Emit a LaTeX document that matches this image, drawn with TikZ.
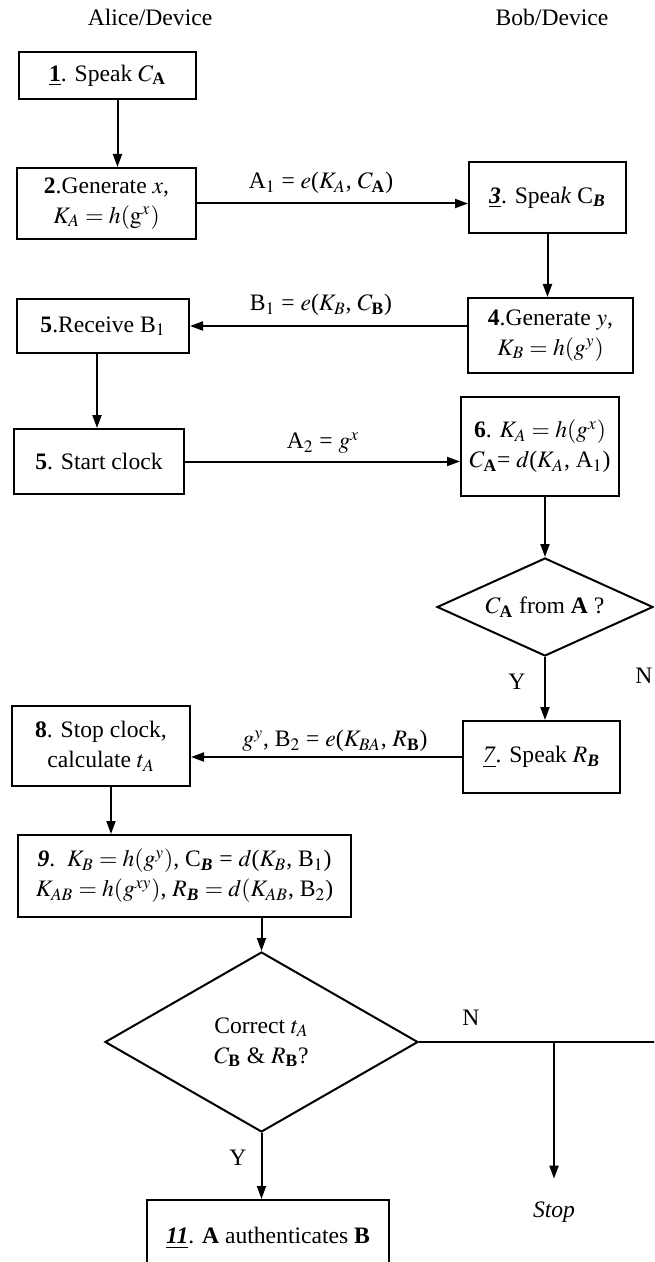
\documentclass[tikz,border=0pt]{standalone}
\usepackage{amsmath}
\usepackage{mathptmx}
\usepackage{fontspec}
\setmainfont{Liberation Serif}
\usetikzlibrary{arrows.meta, shapes, positioning, calc}

\newcommand{\bfA}{\textbf{A}}
\newcommand{\bfB}{\textbf{B}}
\newcommand{\bfiB}{\textbf{\textit{B}}}

\begin{document}
\begin{tikzpicture}[
        x=0.5pt, y=-0.5pt,
        font=\fontsize{11.8}{15}\selectfont,
        box/.style={rectangle, draw, line width=1pt, align=center, inner sep=2pt},
        decision/.style={diamond, draw, line width=1pt, align=center, inner sep=0pt},
        arrow/.style={line width=1pt, -{Triangle[length=6.5pt, width=4.5pt]}},
        link/.style={line width=1pt}
    ]
        \useasboundingbox (0,0) rectangle (654,1262);
        \clip (0,0) rectangle (654,1262);

        \node (alice) at (150,17) {Alice/Device};
        \node (bob) at (552,17) {Bob/Device};

        \node (s1) [box, minimum width=88.5pt, minimum height=23.5pt] at (107.5,75.5) {\underline{\textbf{1}}. Speak $C_{\bfA}$};
        \node (s2) [box, minimum width=89.5pt, minimum height=35.5pt] at (106.5,203.5) {\textbf{2}.Generate $x$, \\ $K_A = h(\mathrm{g}^x)$};
        \node (s3) [box, minimum width=78.5pt, minimum height=35.5pt] at (547.5,197.5) {\underline{\textbf{\textit{3}}}. Spea\textit{k} C$_{\bfiB}$};
        \node (s4) [box, minimum width=82.5pt, minimum height=37.5pt] at (550.5,335.5) {\textbf{4}.Generate $y$, \\ $K_B = h(g^y)$};
        \node (s5) [box, minimum width=86pt, minimum height=27pt] at (103,326) {\textbf{5}.Receive B$_1$};
        \node (s6) [box, minimum width=85pt, minimum height=32.5pt] at (99,461.5) {\textbf{5}. Start clock};
        \node (s7) [box, minimum width=79pt, minimum height=49.5pt] at (540,446.5) {\textbf{6}. $K_A = h(g^x)$ \\ $C_{\bfA}$= $d$($K_A$, A$_1$)};
        \node (d1) [decision, minimum width=108pt, minimum height=49pt, aspect=2.2] at (545,607) {$C_{\bfA}$ from \textbf{A} ?};
        \node (s8) [box, minimum width=78.5pt, minimum height=36pt] at (541.5,757) {\underline{\textit{7}}. Speak $R_{\bfiB}$};
        \node (s9) [box, minimum width=89pt, minimum height=40pt] at (101,746) {\textbf{8}. Stop clock, \\ calculate $t_A$};
        \node (s10) [box, minimum width=166.5pt, minimum height=41pt] at (184.5,876) {\textbf{\textit{9}}.\enspace $K_B = h(g^y)$, C$_{\bfiB}$ = $d$($K_B$, B$_1$) \\ $K_{AB} = h(g^{xy})$, $R_{\bfiB} = d(K_{AB}$, B$_2$)};
        \node (d2) [decision, minimum width=156.5pt, minimum height=90pt, aspect=1.74] at (261.5,1042) {Correct $t_A$ \\ $C_{\bfB}$ \& $R_{\bfB}$?};
        \node (s11) [box, minimum width=121pt, minimum height=38pt] at (268,1238) {\underline{\textbf{\textit{11}}}. \textbf{A} authenticates \textbf{B}};
        \node (stop) at (554,1212) {\textit{Stop}};

        % message labels
        \node (m1) at (321,183) {A$_1$ = $e$($K_A$, $C_{\bfA}$)};
        \node (m2) at (321,305) {B$_1$ = $e$($K_B$, $C_{\bfB}$)};
        \node (m3) at (323,443) {A$_2$ = $g^x$};
        \node (m4) at (335,741) {$g^y$, B$_2$ = $e$($K_{BA}$, $R_{\bfB}$)};

        \node (y1) at (517,682) {Y};
        \node (n1) at (644,676) {N};
        \node (y2) at (238,1158) {Y};
        \node (n2) at (471,1018) {N};

        \coordinate (nsplit) at (554,1043);
        \coordinate (nedge) at (670,1043);

        \draw [arrow] ([xshift=5pt]s1.south) -- ([xshift=5pt]s1.south |- s2.north);
        \draw [arrow] (s2.east) -- (s2.east -| s3.west);
        \draw [arrow] (s3.south) -- (s3.south |- s4.north);
        \draw [arrow] (s4.west |- s5.east) -- (s5.east);
        \draw [arrow] ([xshift=-3pt]s5.south) -- ([xshift=-3pt]s5.south |- s6.north);
        \draw [arrow] (s6.east) -- (s6.east -| s7.west);
        \draw [arrow] (s7.south -| d1.north) -- (d1.north);
        \draw [arrow] (d1.south) -- (d1.south |- s8.north);
        \draw [arrow] (s8.west) -- (s8.west -| s9.east);
        \draw [arrow] ([xshift=5pt]s9.south) -- ([xshift=5pt]s9.south |- s10.north);
        \draw [arrow] (s10.south -| d2.north) -- (d2.north);
        \draw [arrow] (d2.south) -- (d2.south |- s11.north);
        \draw [link] (d2.east) -- (d2.east -| nedge);
        \draw [arrow] (nsplit) -- ([yshift=8pt]stop.north);
    \end{tikzpicture}
\end{document}
